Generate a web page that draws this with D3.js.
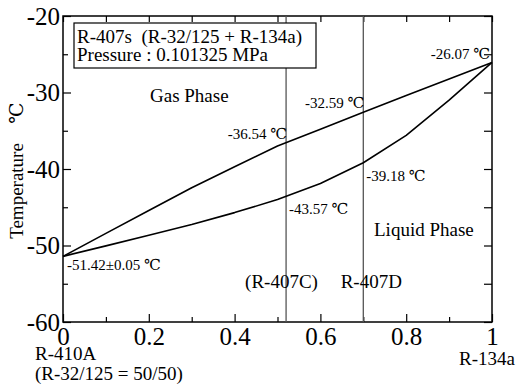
<!DOCTYPE html>
<html>
<head>
<meta charset="utf-8">
<script src="https://cdn.jsdelivr.net/npm/d3@7"></script>
<style>
  body { margin: 0; background: #fff; }
  text { font-family: "Liberation Serif", "Times New Roman", Times, "DejaVu Serif", serif; fill: #000; }
</style>
</head>
<body>
<svg id="chart" width="517" height="385"></svg>
<script>
// mole fraction of R-134a
const composition = [0, 0.1, 0.2, 0.3, 0.4, 0.5, 0.6, 0.7, 0.8, 0.9, 1];
// dew (upper) and bubble (lower) temperatures, deg C
const dewTemp = [-51.42, -48.42, -45.43, -42.45, -39.7, -37.0, -34.8, -32.59, -30.4, -28.25, -26.07];
const bubbleTemp = [-51.42, -50.05, -48.65, -47.25, -45.7, -44.0, -41.9, -39.18, -35.6, -31.0, -26.07];

const xMajor = [0, 0.2, 0.4, 0.6, 0.8, 1];
const xMinor = [0.1, 0.3, 0.5, 0.7, 0.9];
const yMajor = [-20, -30, -40, -50, -60];
const yMinor = [-25, -35, -45, -55];

const blends = [
  {x: 0.52, name: "(R-407C)", dew: -36.54, bubble: -43.57},
  {x: 0.7, name: "R-407D", dew: -32.59, bubble: -39.18}
];

const svg = d3.select("#chart"),
  margin = ({top: 16, right: 25, bottom: 63, left: 63}),
  width = 517,
  height = 385;

const x = d3.scaleLinear()
  .domain([0, 1])
  .range([margin.left, width - margin.right]);

const y = d3.scaleLinear()
  .domain([-60, -20])
  .range([height - margin.bottom, margin.top]);

const fmt = d => String(d);

// ticks (all pointing inward)
const addAxis = (axis, transform) => svg.append("g")
  .attr("transform", transform)
  .call(axis)
  .attr("font-family", null)
  .call(g => g.select(".domain").remove())
  .call(g => g.selectAll(".tick line").attr("stroke-width", 1.2));

addAxis(d3.axisBottom(x).tickValues(xMajor).tickSize(-8).tickPadding(5).tickFormat(fmt),
  `translate(0,${y(-60)})`)
  .selectAll("text").attr("font-size", 25);
addAxis(d3.axisBottom(x).tickValues(xMinor).tickSize(-5).tickFormat(""), `translate(0,${y(-60)})`);
addAxis(d3.axisTop(x).tickValues(xMajor.concat(xMinor)).tickSize(-6).tickFormat(""), `translate(0,${y(-20)})`);

addAxis(d3.axisLeft(y).tickValues(yMajor).tickSize(-8).tickPadding(3).tickFormat(fmt),
  `translate(${x(0)},0)`)
  .selectAll("text").attr("font-size", 25);
addAxis(d3.axisLeft(y).tickValues(yMinor).tickSize(-5).tickFormat(""), `translate(${x(0)},0)`);
addAxis(d3.axisRight(y).tickValues(yMajor.concat(yMinor)).tickSize(-8).tickFormat(""), `translate(${x(1)},0)`);

// frame
svg.append("rect")
  .attr("x", x(0)).attr("y", y(-20))
  .attr("width", x(1) - x(0)).attr("height", y(-60) - y(-20))
  .attr("fill", "none").attr("stroke", "#000").attr("stroke-width", 1.5);

// blend composition lines
svg.selectAll(".blend")
  .data(blends)
  .join("line")
  .attr("x1", d => x(d.x)).attr("x2", d => x(d.x))
  .attr("y1", y(-20)).attr("y2", y(-60))
  .attr("stroke", "#555").attr("stroke-width", 1.3);

// dew / bubble curves
const line = d3.line()
  .x((d, i) => x(composition[i]))
  .y(d => y(d));

[dewTemp, bubbleTemp].forEach(series => {
  svg.append("path")
    .datum(series)
    .attr("fill", "none")
    .attr("stroke", "#000")
    .attr("stroke-width", 1.6)
    .attr("stroke-linejoin", "round")
    .attr("d", line);
});

// legend box
svg.append("rect")
  .attr("x", 74).attr("y", 23).attr("width", 242).attr("height", 45)
  .attr("fill", "#fff").attr("stroke", "#000").attr("stroke-width", 1.2);
svg.append("text").attr("x", 77).attr("y", 43).attr("font-size", 19)
  .attr("xml:space", "preserve").text("R-407s  (R-32/125 + R-134a)");
svg.append("text").attr("x", 77).attr("y", 61).attr("font-size", 19)
  .text("Pressure : 0.101325 MPa");

// point labels
const label = (tx, ty, str, anchor) => svg.append("text")
  .attr("x", tx).attr("y", ty)
  .attr("font-size", 15)
  .attr("text-anchor", anchor || "start")
  .text(str);

label(x(1) - 2, y(dewTemp[10]) - 3, `${dewTemp[10]} ℃`, "end");
label(x(0) + 4, y(dewTemp[0]) + 14, `${dewTemp[0]}±0.05 ℃`);
blends.forEach(b => {
  label(x(b.x) + 1, y(b.dew) - 4, `${b.dew} ℃`, "end");
  label(x(b.x) + 3, y(b.bubble) + 18, `${b.bubble} ℃`);
});

// phase / blend names
const bigText = (tx, ty, str, anchor) => svg.append("text")
  .attr("x", tx).attr("y", ty)
  .attr("font-size", 19)
  .attr("text-anchor", anchor || "start")
  .text(str);

bigText(150, 102, "Gas Phase");
bigText(374, 236, "Liquid Phase");
bigText(x(blends[0].x) - 41, 288, blends[0].name);
bigText(x(blends[1].x) + 8, 288, blends[1].name, "middle");
bigText(35, 360, "R-410A");
bigText(35, 380, "(R-32/125 = 50/50)");
bigText(515, 365, "R-134a", "end");

// y axis title
svg.append("text")
  .attr("transform", "translate(23,191) rotate(-90)")
  .attr("font-size", 19).attr("text-anchor", "middle")
  .text("Temperature");
svg.append("text")
  .attr("transform", "translate(23,113) rotate(-90)")
  .attr("font-size", 19).attr("text-anchor", "middle")
  .text("℃");
</script>
</body>
</html>
